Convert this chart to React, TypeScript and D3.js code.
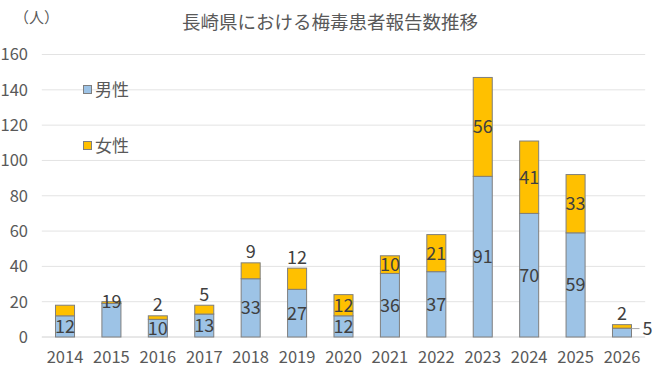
import React from "react";
import * as d3 from "d3";

const years = ["2014", "2015", "2016", "2017", "2018", "2019", "2020", "2021", "2022", "2023", "2024", "2025", "2026"];
const male = [12, 19, 10, 13, 33, 27, 12, 36, 37, 91, 70, 59, 5];
const female = [6, 1, 2, 5, 9, 12, 12, 10, 21, 56, 41, 33, 2];
// where each data label sits: center of segment, at segment top, above bar, right of bar, or hidden
const maleLabelPos = ["center", "top", "center", "center", "center", "center", "center", "center", "center", "center", "center", "center", "right"];
const femaleLabelPos = ["none", "none", "above", "above", "above", "above", "center", "center", "center", "center", "center", "center", "above"];
const yTicks = [0, 20, 40, 60, 80, 100, 120, 140, 160];

const W = 662;
const H = 386;
const FONT = "'Noto Sans CJK JP', 'Noto Sans', sans-serif";
const BLUE = "#9DC3E6";
const ORANGE = "#FFC000";
const EDGE = "#7F7F7F";
const LABEL = "#404040";
const AXIS = "#595959";

const App = () => {
  const x = d3
    .scaleBand()
    .domain(years)
    .range([41.8, 645.2])
    .paddingInner(0.59)
    .paddingOuter(0.295);
  const y = d3.scaleLinear().domain([0, 160]).range([337, 54.5]);
  const bw = x.bandwidth();

  const labelY = (mode, lo, hi) => {
    if (mode === "top") return y(hi) - 2;
    if (mode === "above") return y(hi) - 11;
    return y((lo + hi) / 2);
  };

  return (
    <svg width={W} height={H} style={{ position: "absolute", left: 0, top: 0, background: "#fff" }} fontFamily={FONT}>
      <rect width={W} height={H} fill="#fff" />
      <text x={330} y={29} textAnchor="middle" fontSize={18.5} fill={AXIS}>
        長崎県における梅毒患者報告数推移
      </text>
      <text x={14} y={23} fontSize={15} fill={AXIS}>
        （人）
      </text>

      {yTicks.map((t) => (
        <g key={t}>
          <line x1={41.8} x2={645.2} y1={y(t)} y2={y(t)} stroke={t === 0 ? "#d0d0d0" : "#e3e3e3"} strokeWidth={1} />
          <text x={28} y={y(t)} dy="0.36em" textAnchor="end" fontSize={16.5} fill={AXIS}>
            {t}
          </text>
        </g>
      ))}

      {years.map((yr, i) => {
        const bx = x(yr);
        const m = male[i];
        const f = female[i];
        const cx = bx + bw / 2;
        return (
          <g key={yr}>
            <rect x={bx} y={y(m)} width={bw} height={y(0) - y(m)} fill={BLUE} stroke={EDGE} strokeWidth={1} />
            <rect x={bx} y={y(m + f)} width={bw} height={y(m) - y(m + f)} fill={ORANGE} stroke={EDGE} strokeWidth={1} />
            <text x={cx} y={357} dy="0.36em" textAnchor="middle" fontSize={16.5} fill={AXIS}>
              {yr}
            </text>
            {maleLabelPos[i] === "right" ? (
              <g>
                <line x1={bx + bw} x2={bx + bw + 8} y1={y(m / 2) - 4} y2={y(m / 2) - 4} stroke="#a6a6a6" />
                <text x={bx + bw + 11} y={y(m / 2) - 4} dy="0.36em" fontSize={18} fill={LABEL}>
                  {m}
                </text>
              </g>
            ) : (
              <text x={cx} y={labelY(maleLabelPos[i], 0, m)} dy="0.36em" textAnchor="middle" fontSize={18} fill={LABEL}>
                {m}
              </text>
            )}
            {femaleLabelPos[i] !== "none" && (
              <text x={cx} y={labelY(femaleLabelPos[i], m, m + f)} dy="0.36em" textAnchor="middle" fontSize={18} fill={LABEL}>
                {f}
              </text>
            )}
          </g>
        );
      })}

      <rect x={83.5} y={85.5} width={8} height={8} fill={BLUE} stroke={EDGE} />
      <text x={95} y={90} dy="0.36em" fontSize={17} fill={AXIS}>
        男性
      </text>
      <rect x={83.5} y={141.5} width={8} height={8} fill={ORANGE} stroke={EDGE} />
      <text x={95} y={146} dy="0.36em" fontSize={17} fill={AXIS}>
        女性
      </text>
    </svg>
  );
};

export default App;
